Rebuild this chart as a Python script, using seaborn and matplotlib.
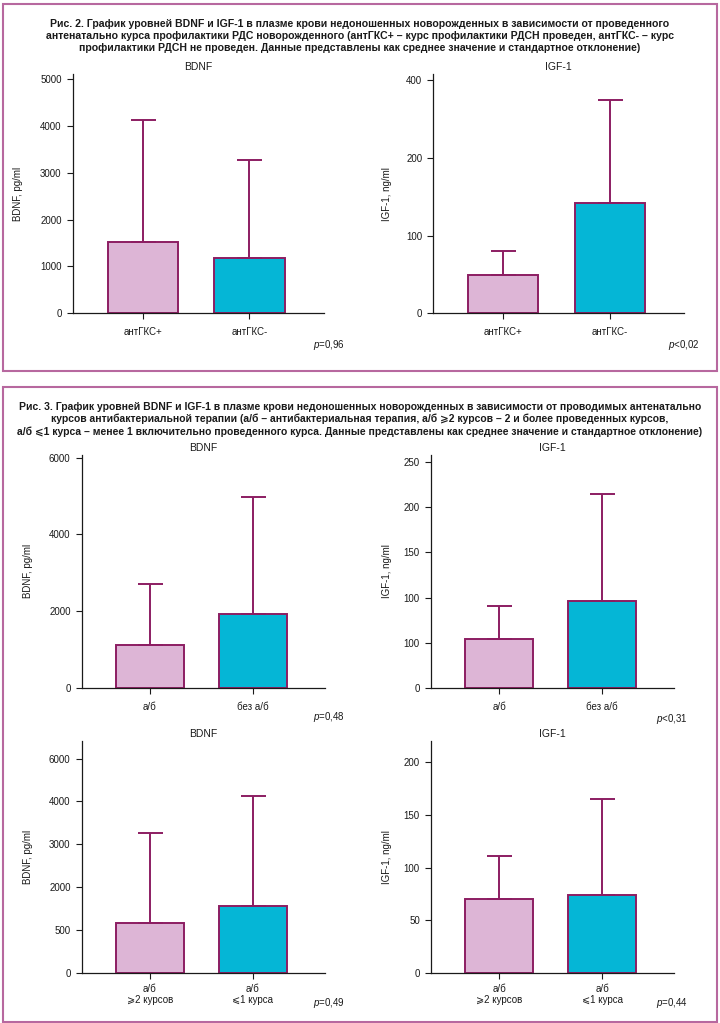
import numpy as np
import matplotlib
matplotlib.use("Agg")
import matplotlib.pyplot as plt
import seaborn as sns
from matplotlib.patches import Rectangle

# Рис. 2 - антенатальные ГКС
groups_gks = ["антГКС+", "антГКС-"]
bdnf_gks_mean = [1530, 1190]
bdnf_gks_sd = [2594, 2086]
igf_gks_mean = [49, 142]
igf_gks_sd = [31, 133]

# Рис. 3 - антибактериальная терапия
groups_ab = ["а/б", "без а/б"]
bdnf_ab_mean = [1113, 1922]
bdnf_ab_sd = [1600, 3061]
igf_ab_mean = [54, 96]
igf_ab_sd = [37, 119]

groups_courses = ["а/б\n⩾2 курсов", "а/б\n⩽1 курса"]
bdnf_courses_mean = [1160, 1565]
bdnf_courses_sd = [2103, 2555]
igf_courses_mean = [70, 74]
igf_courses_sd = [41, 91]

# подписи делений как на рисунке
ticks_bdnf_gks = [0, 1000, 2000, 3000, 4000, 5000]
labels_bdnf_gks = ["0", "1000", "2000", "3000", "4000", "5000"]
ticks_igf_gks = [0, 100, 200, 300]
labels_igf_gks = ["0", "100", "200", "400"]
ticks_bdnf_ab = [0, 2000, 4000, 6000]
labels_bdnf_ab = ["0", "2000", "4000", "6000"]
ticks_igf_ab = [0, 50, 100, 150, 200, 250]
labels_igf_ab = ["0", "100", "100", "150", "200", "250"]
ticks_bdnf_courses = [0, 1000, 2000, 3000, 4000, 5000]
labels_bdnf_courses = ["0", "500", "2000", "3000", "4000", "6000"]
ticks_igf_courses = [0, 50, 100, 150, 200]
labels_igf_courses = ["0", "50", "100", "150", "200"]

PINK = "#ddb5d6"
CYAN = "#05b6d6"
EDGE = "#8c1d62"
FRAME = "#b7689f"

sns.set_style("ticks")
plt.rcParams["font.family"] = ["Liberation Sans", "DejaVu Sans"]
plt.rcParams["mathtext.fontset"] = "custom"
plt.rcParams["mathtext.it"] = "Liberation Sans:italic"
plt.rcParams["mathtext.rm"] = "Liberation Sans"

W, H = 720, 1023
fig = plt.figure(figsize=(W / 100, H / 100), dpi=100)


def px_axes(x0, y0, x1, y1):
    return fig.add_axes([x0 / W, 1 - y1 / H, (x1 - x0) / W, (y1 - y0) / H])


def draw_panel(ax, groups, means, sds, title, ylabel, ymax, ticks, labels, lab_x):
    sns.barplot(
        x=groups, y=means, hue=groups,
        palette=[PINK, CYAN], legend=False, saturation=1,
        width=0.66, edgecolor=EDGE, linewidth=1.4,
        errorbar=None, ax=ax
    )
    ax.errorbar(
        range(len(groups)), means,
        yerr=[np.zeros(len(sds)), sds],
        fmt="none", ecolor=EDGE, elinewidth=1.4,
        capsize=9, capthick=1.4, zorder=1
    )
    ax.set_xlim(-0.66, 1.7)
    ax.set_ylim(0, ymax)
    ax.set_yticks(ticks)
    ax.set_yticklabels(labels)
    ax.set_title(title, fontsize=7.5, pad=3, color="#1a1a1a")
    ax.set_ylabel(ylabel, fontsize=7, color="#1a1a1a")
    ax.yaxis.set_label_coords(lab_x, 0.5)
    ax.tick_params(axis="both", labelsize=7, length=4, width=0.8, colors="#1a1a1a")
    ax.tick_params(axis="x", pad=6)
    ax.tick_params(axis="y", pad=4)
    for s in ["left", "bottom"]:
        ax.spines[s].set_linewidth(0.9)
        ax.spines[s].set_color("#1a1a1a")
    sns.despine(ax=ax)


# рамки
fig.patches.append(Rectangle((3 / W, 1 - 371 / H), 714 / W, 367 / H,
                             transform=fig.transFigure, fill=False,
                             edgecolor=FRAME, linewidth=1.5))
fig.patches.append(Rectangle((3 / W, 1 - 1021.5 / H), 714 / W, 634.5 / H,
                             transform=fig.transFigure, fill=False,
                             edgecolor=FRAME, linewidth=1.5))

cap2 = [
    "Рис. 2. График уровней BDNF и IGF-1 в плазме крови недоношенных новорожденных в зависимости от проведенного",
    "антенатально курса профилактики РДС новорожденного (антГКС+ – курс профилактики РДСН проведен, антГКС- – курс",
    "профилактики РДСН не проведен. Данные представлены как среднее значение и стандартное отклонение)",
]
cap3 = [
    "Рис. 3. График уровней BDNF и IGF-1 в плазме крови недоношенных новорожденных в зависимости от проводимых антенатально",
    "курсов антибактериальной терапии (а/б – антибактериальная терапия, а/б ⩾2 курсов – 2 и более проведенных курсов,",
    "а/б ⩽1 курса – менее 1 включительно проведенного курса. Данные представлены как среднее значение и стандартное отклонение)",
]
for i, line in enumerate(cap2):
    fig.text(0.5, 1 - (24 + 12 * i) / H, line, ha="center", va="center",
             fontsize=7.6, fontweight="bold", color="#1a1a1a")
for i, line in enumerate(cap3):
    fig.text(0.5, 1 - (406.5 + 12.5 * i) / H, line, ha="center", va="center",
             fontsize=7.5, fontweight="bold", color="#1a1a1a")

ax1 = px_axes(72.7, 74, 324, 313.3)
draw_panel(ax1, groups_gks, bdnf_gks_mean, bdnf_gks_sd, "BDNF", "BDNF, pg/ml",
           5113, ticks_bdnf_gks, labels_bdnf_gks, -0.198)
ax2 = px_axes(433.3, 74, 684, 313.3)
draw_panel(ax2, groups_gks, igf_gks_mean, igf_gks_sd, "IGF-1", "IGF-1, ng/ml",
           308, ticks_igf_gks, labels_igf_gks, -0.166)
ax3 = px_axes(81.7, 455, 325, 687.7)
draw_panel(ax3, groups_ab, bdnf_ab_mean, bdnf_ab_sd, "BDNF", "BDNF, pg/ml",
           6070, ticks_bdnf_ab, labels_bdnf_ab, -0.199)
ax4 = px_axes(431, 455, 674.3, 687.7)
draw_panel(ax4, groups_ab, igf_ab_mean, igf_ab_sd, "IGF-1", "IGF-1, ng/ml",
           258, ticks_igf_ab, labels_igf_ab, -0.161)
ax5 = px_axes(81.7, 740.7, 325, 972.7)
draw_panel(ax5, groups_courses, bdnf_courses_mean, bdnf_courses_sd, "BDNF", "BDNF, pg/ml",
           5420, ticks_bdnf_courses, labels_bdnf_courses, -0.199)
ax6 = px_axes(431, 740.7, 674.3, 972.7)
draw_panel(ax6, groups_courses, igf_courses_mean, igf_courses_sd, "IGF-1", "IGF-1, ng/ml",
           220.6, ticks_igf_courses, labels_igf_courses, -0.161)
for ax in (ax5, ax6):
    ax.tick_params(axis="x", pad=4)
    for t in ax.get_xticklabels():
        t.set_linespacing(1.1)

# p-значения
pvals = [
    (345, 345, "$p$=0,96"), (700, 345, "$p$<0,02"),
    (345, 717, "$p$=0,48"), (688, 719, "$p$<0,31"),
    (345, 1002.7, "$p$=0,49"), (688, 1002.7, "$p$=0,44"),
]
for x, y, s in pvals:
    fig.text(x / W, 1 - y / H, s, ha="right", va="center", fontsize=7, color="#1a1a1a")

fig.savefig("out.png", dpi=100)
